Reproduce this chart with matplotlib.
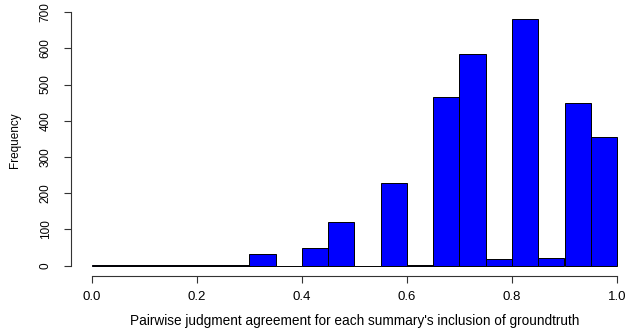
import numpy as np
import matplotlib
matplotlib.use('Agg')
import matplotlib.pyplot as plt

# histogram of pairwise agreement, bins of width 0.05
bin_edges = [round(0.05 * i, 2) for i in range(21)]
counts = [2, 1, 1, 3, 3, 1, 32, 0, 50, 120, 0, 229, 2, 465, 584, 18, 680, 20, 448, 354]
x_ticks = [0.0, 0.2, 0.4, 0.6, 0.8, 1.0]
y_ticks = [0, 100, 200, 300, 400, 500, 600, 700]

plt.rcParams['font.family'] = ['Liberation Sans', 'DejaVu Sans']

W, H = 627, 329
fig = plt.figure(figsize=(W / 100, H / 100), dpi=100)

# plot region in pixels (R style, 4% padding around the data range)
left_px, right_px = 71, 638
top_px, bottom_px = 9.4, 275.6
ax = fig.add_axes([left_px / W, 1 - bottom_px / H,
                   (right_px - left_px) / W, (bottom_px - top_px) / H])

centers = [(a + b) / 2 for a, b in zip(bin_edges[:-1], bin_edges[1:])]
ax.hist(centers, bins=bin_edges, weights=counts,
        color='#0000FF', edgecolor='black', linewidth=0.7)

ax.set_xlim(-0.04, 1.04)
ax.set_ylim(-27.2, 707.2)

ax.spines['top'].set_visible(False)
ax.spines['right'].set_visible(False)
ax.spines['left'].set_bounds(0, 700)
ax.spines['bottom'].set_bounds(0, 1)
for s in ('left', 'bottom'):
    ax.spines[s].set_linewidth(0.8)
    ax.spines[s].set_color('#333333')

ax.set_xticks(x_ticks)
ax.set_xticklabels([f'{v:.1f}' for v in x_ticks], fontsize=9.5)
ax.set_yticks(y_ticks)
ax.set_yticklabels([str(v) for v in y_ticks], rotation=90, va='center', fontsize=8.5)
ax.tick_params(axis='both', length=5, width=0.8, color='#333333')
ax.tick_params(axis='y', pad=9)
ax.tick_params(axis='x', pad=6)

fig.text(355 / W, 1 - 321 / H,
         "Pairwise judgment agreement for each summary's inclusion of groundtruth",
         ha='center', va='center', fontsize=9.8)
fig.text(15 / W, 1 - 140 / H, 'Frequency', rotation=90,
         ha='center', va='center', fontsize=8.5)

fig.savefig('out.png', dpi=100)
